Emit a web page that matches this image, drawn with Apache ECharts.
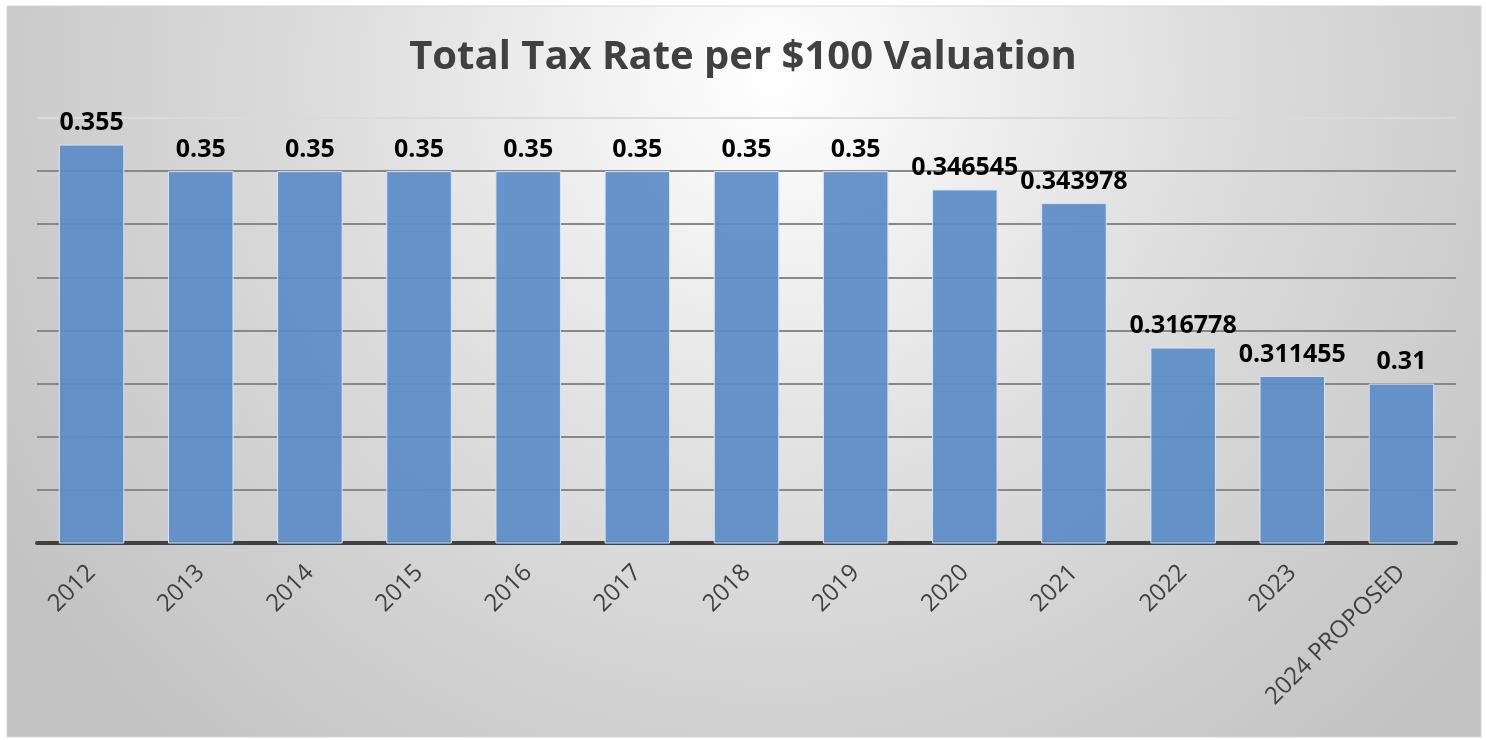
<!DOCTYPE html>
<html>
<head>
<meta charset="utf-8">
<script src="https://cdn.jsdelivr.net/npm/echarts@6/dist/echarts.min.js"></script>
<style>
  html, body { margin: 0; padding: 0; background: #fff; }
  #grafica { width: 1486px; height: 740px; }
</style>
</head>
<body>
<div id="grafica"></div>
<script>
const years = ["2012", "2013", "2014", "2015", "2016", "2017", "2018", "2019", "2020", "2021", "2022", "2023", "2024 PROPOSED"];
const rates = [0.355, 0.35, 0.35, 0.35, 0.35, 0.35, 0.35, 0.35, 0.346545, 0.343978, 0.316778, 0.311455, 0.31];
const titulo = "Total Tax Rate per $100 Valuation";

// gridline colours from 0.28 up to 0.36 (top one is faint in the original)
const gridColors = ["#888", "#888", "#888", "#888", "#888", "#888", "#888", "#888", "#dadada"];

const getOptionChart = () => {
  return {
    backgroundColor: "#ffffff",
    graphic: [
      {
        type: "rect",
        z: -10,
        silent: true,
        shape: { x: 7, y: 6, width: 1474, height: 731 },
        style: {
          fill: {
            type: "radial",
            x: 0.52,
            y: 0.1,
            r: 1.25,
            colorStops: [
              { offset: 0, color: "#ffffff" },
              { offset: 0.5, color: "#dcdcdc" },
              { offset: 1, color: "#c2c2c2" },
            ],
          },
          stroke: "#d4d4d4",
          lineWidth: 1,
        },
      },
    ],
    title: {
      text: titulo,
      left: "center",
      top: 33,
      textStyle: {
        fontFamily: "Open Sans",
        fontWeight: "bold",
        fontSize: 40,
        color: "#404040",
      },
    },
    grid: {
      left: 37,
      right: 30,
      top: 118,
      bottom: 197,
    },
    xAxis: {
      type: "category",
      data: years,
      axisLine: { lineStyle: { color: "#404040", width: 4 } },
      axisTick: { show: false },
      axisLabel: {
        rotate: 45,
        margin: 26,
        fontFamily: "Open Sans",
        fontSize: 24,
        color: "#404040",
      },
    },
    yAxis: {
      type: "value",
      min: 0.28,
      max: 0.36,
      interval: 0.01,
      axisLabel: { show: false },
      axisLine: { show: false },
      axisTick: { show: false },
      splitLine: { lineStyle: { color: gridColors, width: 2 } },
    },
    series: [
      {
        type: "bar",
        data: rates,
        barCategoryGap: "40%",
        itemStyle: {
          color: "rgba(91,140,198,0.93)",
          borderColor: "#d6e4f3",
          borderWidth: 1,
        },
        label: {
          show: true,
          position: "top",
          distance: 9,
          fontFamily: "Open Sans",
          fontWeight: "bold",
          fontSize: 25,
          color: "#000000",
        },
      },
    ],
  };
};

const initCharts = () => {
  const chart = echarts.init(document.querySelector("#grafica"));
  chart.setOption(getOptionChart());
};

initCharts();
</script>
</body>
</html>
